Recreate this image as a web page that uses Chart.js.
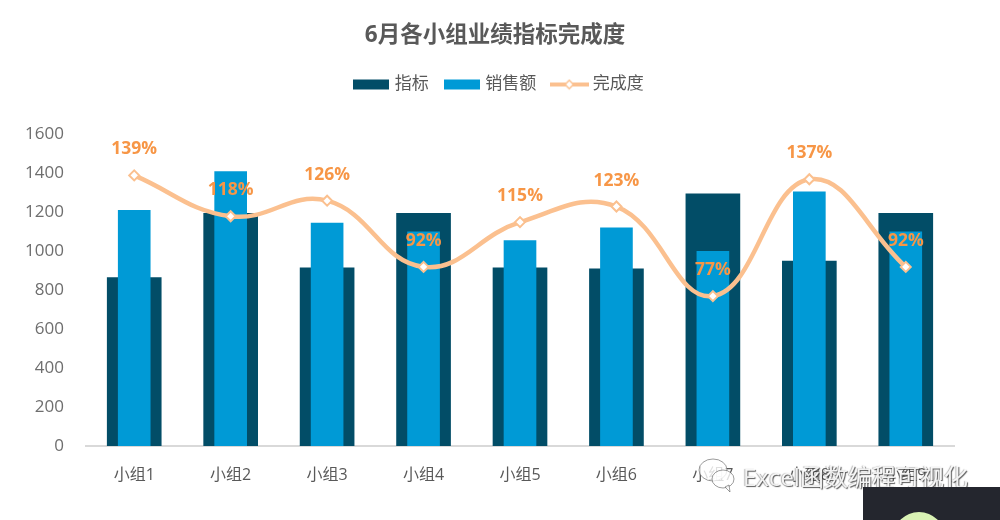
<!DOCTYPE html>
<html>
<head>
<meta charset="utf-8">
<style>
html, body { margin: 0; padding: 0; background: #fff; overflow: hidden; }
#wrap { position: relative; width: 1000px; height: 520px; }
#mark { position: absolute; left: 743px; top: 462px; font: 24px "Open Sans", "Noto Sans CJK SC", sans-serif; line-height: 30px;
  color: rgba(255,255,255,.9); text-shadow: 1px 1px 1px rgba(50,50,50,.8), -1px 0 1px rgba(90,90,90,.45); white-space: nowrap; }
#icon { position: absolute; left: 697px; top: 458px; }
#corner { position: absolute; left: 863px; top: 487px; width: 137px; height: 33px; background: #24262e; overflow: hidden; }
#corner div { position: absolute; left: 30px; top: 25px; width: 52px; height: 52px; border-radius: 50%; background: #d9f2b4; }
</style>
</head>
<body>
<div id="wrap">
  <canvas id="chartCanvas" width="1000" height="520"></canvas>
  <svg id="icon" width="40" height="36" viewBox="0 0 40 36">
    <g fill="rgba(255,255,255,.8)" stroke="rgba(90,90,90,.6)" stroke-width="1">
      <ellipse cx="16" cy="12" rx="14" ry="11"/>
      <ellipse cx="26" cy="21" rx="11" ry="9"/>
      <path d="M28 29 l5 5 l-1 -7 z"/>
    </g>
  </svg>
  <div id="mark">Excel函数编程可视化</div>
  <div id="corner"><div></div></div>
</div>
<script src="https://cdn.jsdelivr.net/npm/chart.js@4"></script>
<script>
"use strict";

const categories = ['小组1', '小组2', '小组3', '小组4', '小组5', '小组6', '小组7', '小组8', '小组9'];
const targets = [865, 1195, 915, 1195, 915, 910, 1295, 950, 1195];
const sales = [1210, 1410, 1145, 1100, 1055, 1120, 1000, 1305, 1100];
const completion = [139, 118, 126, 92, 115, 123, 77, 137, 92];
const yTicks = [0, 200, 400, 600, 800, 1000, 1200, 1400, 1600];

const dark = '#024d67';
const blue = '#009ad6';
const peach = '#fbc08f';
const fontFamily = '"Open Sans", "Noto Sans CJK SC", sans-serif';

function swatch(color, isLine) {
    const c = document.createElement('canvas');
    c.width = isLine ? 39 : 36;
    c.height = 12;
    const g = c.getContext('2d');
    if (isLine) {
        g.fillStyle = peach;
        g.fillRect(0, 4, 39, 4);
        g.translate(19.5, 6);
        g.rotate(Math.PI / 4);
        g.fillStyle = '#fff';
        g.strokeStyle = peach;
        g.lineWidth = 1.5;
        g.fillRect(-3, -3, 6, 6);
        g.strokeRect(-3, -3, 6, 6);
    } else {
        g.fillStyle = color;
        g.fillRect(0, 1, 36, 10);
    }
    return c;
}

// no datalabels plugin here, so the percent labels are drawn by hand
const percentLabels = {
    id: 'percentLabels',
    afterDatasetsDraw(chart) {
        const ctx = chart.ctx;
        const meta = chart.getDatasetMeta(2);
        ctx.save();
        ctx.font = 'bold 17.5px ' + fontFamily;
        ctx.fillStyle = '#f79646';
        ctx.textAlign = 'center';
        ctx.textBaseline = 'middle';
        meta.data.forEach((pt, i) => {
            ctx.fillText(completion[i] + '%', pt.x, pt.y - 26);
        });
        ctx.restore();
    }
};

// leaves room between the legend and the plot, and nudges the legend right
const legendGap = {
    id: 'legendGap',
    beforeInit(chart) {
        const legend = chart.legend;
        const fit = legend.fit;
        const draw = legend.draw;
        legend.fit = function () {
            fit.call(this);
            this.height += 31.5;
        };
        legend.draw = function () {
            this.ctx.save();
            this.ctx.translate(5, 0);
            draw.call(this);
            this.ctx.restore();
        };
    }
};

new Chart(document.getElementById('chartCanvas').getContext('2d'), {
    data: {
        labels: categories,
        datasets: [
            { type: 'bar', label: '指标', data: targets, backgroundColor: dark, barThickness: 54, grouped: false, order: 3, yAxisID: 'y' },
            { type: 'bar', label: '销售额', data: sales, backgroundColor: blue, barThickness: 32, grouped: false, order: 2, yAxisID: 'y' },
            {
                type: 'line', label: '完成度', data: completion, yAxisID: 'y1', order: 1,
                borderColor: peach, borderWidth: 4.5, tension: 0.42,
                pointStyle: 'rectRot', pointRadius: 5, pointBackgroundColor: '#fff',
                pointBorderColor: peach, pointBorderWidth: 2
            }
        ]
    },
    options: {
        responsive: false,
        animation: false,
        layout: { padding: { left: 0, right: 10, top: 14, bottom: 0 } },
        plugins: {
            tooltip: { enabled: false },
            title: {
                display: true,
                text: '6月各小组业绩指标完成度',
                color: '#595959',
                font: { family: fontFamily, size: 22.5, weight: 'bold' },
                padding: { top: 8, bottom: 9 }
            },
            legend: {
                position: 'top',
                onClick: null,
                labels: {
                    usePointStyle: true,
                    pointStyleWidth: 30,
                    boxHeight: 12,
                    padding: 18,
                    color: '#595959',
                    font: { family: fontFamily, size: 17 },
                    generateLabels(chart) {
                        return chart.data.datasets.map((d, i) => ({
                            text: d.label,
                            fontColor: '#595959',
                            datasetIndex: i,
                            pointStyle: swatch(i === 0 ? dark : blue, i === 2),
                            lineWidth: 0
                        }));
                    }
                }
            }
        },
        scales: {
            x: {
                grid: { display: false, drawTicks: false },
                border: { color: '#d9d9d9', width: 2 },
                ticks: { color: '#595959', padding: 20, font: { family: fontFamily, size: 16 }, maxRotation: 0 },
                afterFit(scale) { scale.height = 74; }
            },
            y: {
                min: 0,
                max: 1600,
                grid: { display: false, drawTicks: false },
                border: { display: false },
                afterBuildTicks(scale) { scale.ticks = yTicks.map(v => ({ value: v })); },
                ticks: { color: '#6e6e6e', padding: 22, font: { family: fontFamily, size: 17 }, callback: v => String(v) },
                afterFit(scale) { scale.width = 86; }
            },
            y1: {
                position: 'right',
                min: 0,
                max: 160,
                grid: { display: false, drawTicks: false },
                border: { display: false },
                ticks: { display: false },
                afterFit(scale) { scale.width = 36; }
            }
        }
    },
    plugins: [percentLabels, legendGap]
});
</script>
</body>
</html>
